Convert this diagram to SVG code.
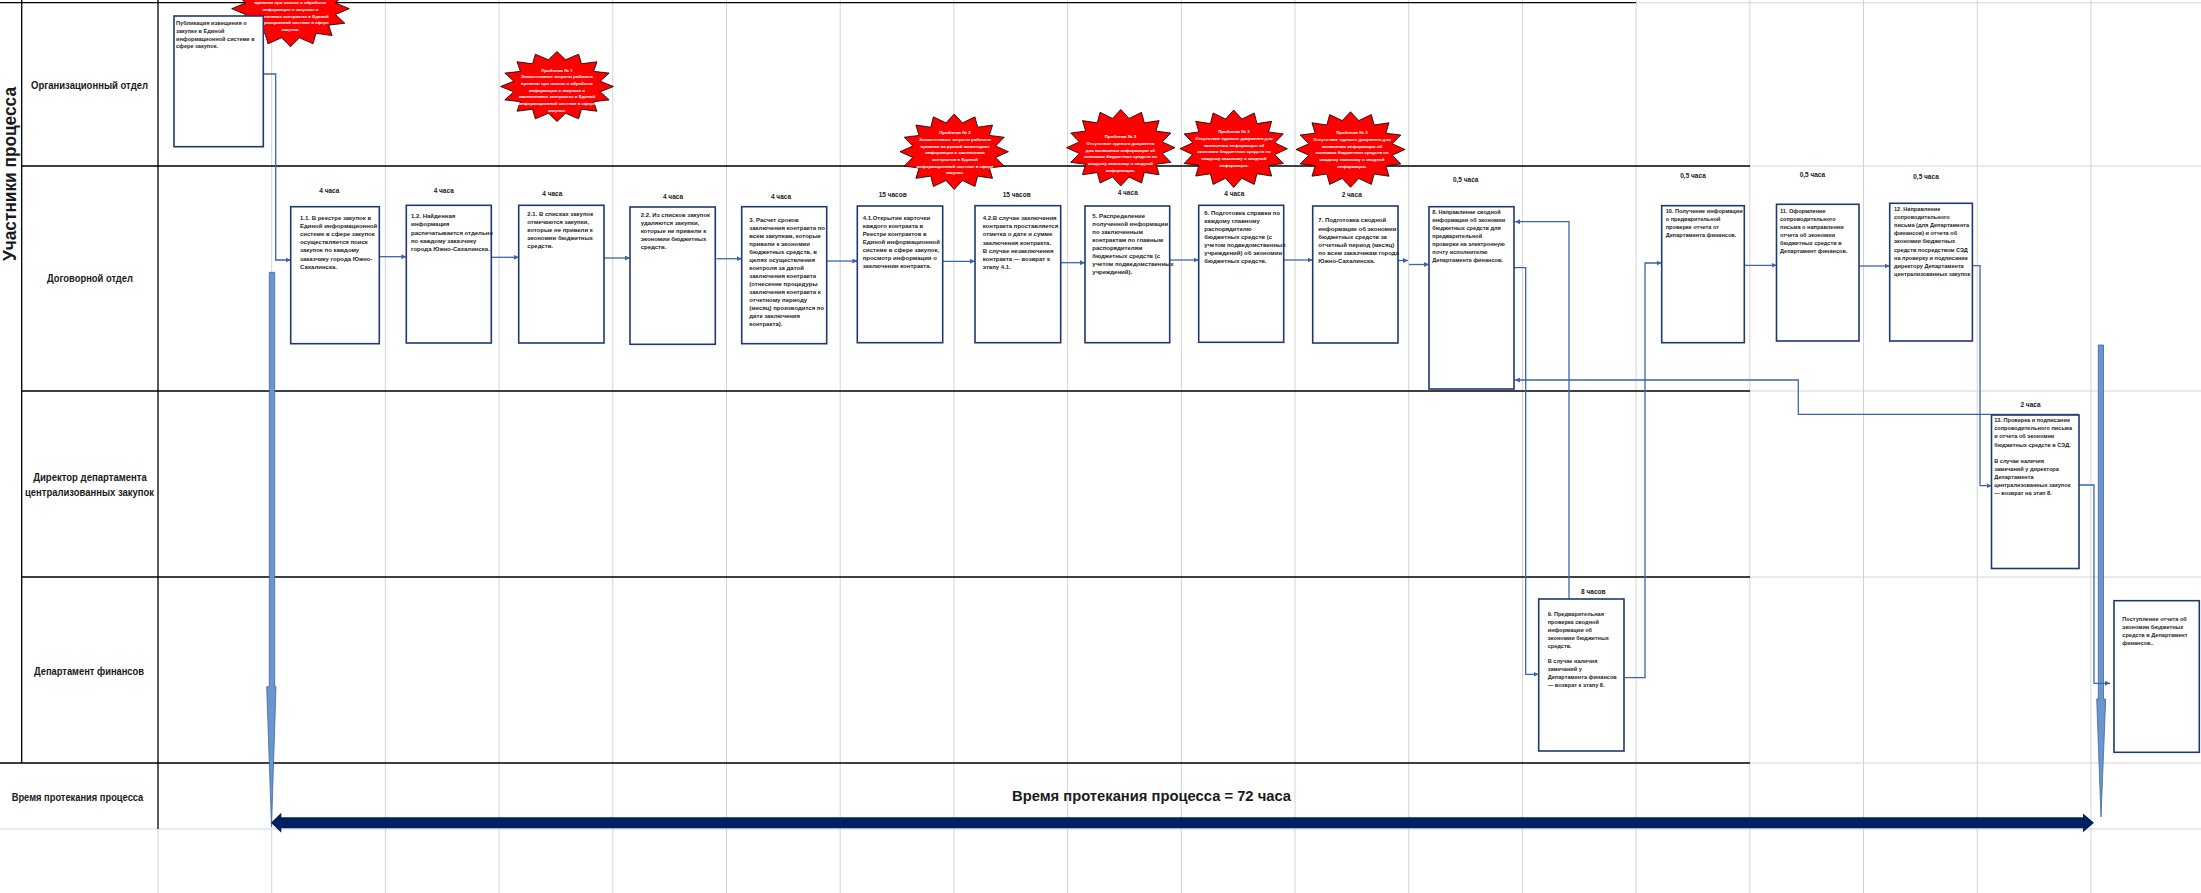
<svg xmlns="http://www.w3.org/2000/svg" xmlns:xlink="http://www.w3.org/1999/xlink" width="2201" height="893" viewBox="0 0 2201 893">
<style>
.grid{stroke:#d4d4d4;stroke-width:1;fill:none}
.bl{stroke:#000;stroke-width:1.3;fill:none}
.lane{font-family:"Liberation Sans",Arial,sans-serif;font-weight:bold;font-size:11.5px;fill:#1a1a1a;text-anchor:middle}
.box{fill:#fff;stroke:#1f3a70;stroke-width:1.6}
.bt{font-family:"Liberation Sans",Arial,sans-serif;font-weight:bold;font-size:6px;fill:#1e1e1e}
.bs{font-size:5.6px}
.tm{font-family:"Liberation Sans",Arial,sans-serif;font-weight:bold;font-size:6.5px;fill:#222;text-anchor:middle}
.star{fill:#ff0000;stroke:#000;stroke-width:0.8}
.st{font-family:"Liberation Sans",Arial,sans-serif;font-weight:bold;font-size:4.4px;fill:#fff;text-anchor:middle}
.con{fill:none;stroke:#3d64ad;stroke-width:1.3}
.bar{fill:#6a95cf;stroke:#41669e;stroke-width:0.8}
</style>
<defs>
<polygon id="star" class="star" vector-effect="non-scaling-stroke" points="0,-100 15.2,-76.5 38.3,-92.4 43.3,-64.9 70.7,-70.7 64.9,-43.3 92.4,-38.3 76.5,-15.2 100,0 76.5,15.2 92.4,38.3 64.9,43.3 70.7,70.7 43.3,64.9 38.3,92.4 15.2,76.5 0,100 -15.2,76.5 -38.3,92.4 -43.3,64.9 -70.7,70.7 -64.9,43.3 -92.4,38.3 -76.5,15.2 -100,0 -76.5,-15.2 -92.4,-38.3 -64.9,-43.3 -70.7,-70.7 -43.3,-64.9 -38.3,-92.4 -15.2,-76.5"/>
<marker id="ah" viewBox="0 0 10 10" refX="10" refY="5" markerWidth="5" markerHeight="5" markerUnits="userSpaceOnUse" orient="auto"><path d="M0,0 L10,5 L0,10 z" fill="#3d64ad"/></marker>
</defs>
<rect width="2201" height="893" fill="#fff"/>
<g id="grid">
<path class="grid" d="M271.7,0V893M385.4,0V893M499.1,0V893M612.8,0V893M726.5,0V893M840.2,0V893M953.9,0V893M1067.6,0V893M1181.3,0V893M1295,0V893M1408.7,0V893M1522.4,0V893M1636.1,0V893M1749.8,0V893M1863.5,0V893M1977.2,0V893M2090.9,0V893M0,829H2201M158,829V893M1636,2.7H2201M1750,166H2201M1750,391H2201M1750,577H2201M1750,763H2201"/>
<path class="bl" d="M0,2.7H1636M21.7,166H1750M21.7,391H1750M21.7,577H1750M0,763H1750M21.7,0V763M158,0V829"/>
</g>
<g id="lanes">
<text class="lane" transform="translate(15.5,174) rotate(-90)" style="font-size:19px" textLength="174" lengthAdjust="spacingAndGlyphs">Участники процесса</text>
<text class="lane" x="89.5" y="89.3" textLength="117" lengthAdjust="spacingAndGlyphs">Организационный отдел</text>
<text class="lane" x="90" y="282" textLength="86" lengthAdjust="spacingAndGlyphs">Договорной отдел</text>
<text class="lane" x="90" y="481" textLength="113.7" lengthAdjust="spacingAndGlyphs">Директор департамента</text>
<text class="lane" x="89.5" y="495.7" textLength="129" lengthAdjust="spacingAndGlyphs">централизованных закупок</text>
<text class="lane" x="89" y="675" textLength="110" lengthAdjust="spacingAndGlyphs">Департамент финансов</text>
<text class="lane" x="77.5" y="800.7" textLength="131.6" lengthAdjust="spacingAndGlyphs">Время протекания процесса</text>
</g>
<g id="timeline">
<path class="bar" d="M269.3,272.3H274.7V686.7H276L271.5,827L266.7,686.7H269.3Z"/>
<path class="bar" d="M2098.3,345H2103.5V699H2105.7L2101,817L2096.7,699H2098.3Z"/>
<path fill="#002060" d="M271,822.8L281.3,812.7V817.3H2083V813.5L2094,822.8L2083,832.3V828.3H281.3V832.8Z"/>
<text class="lane" x="1151.5" y="800.7" style="font-size:15px" textLength="279" lengthAdjust="spacingAndGlyphs">Время протекания процесса = 72 часа</text>
</g>
<g id="problems">
<g id="problem-top"><use xlink:href="#star" href="#star" transform="translate(290.5,8.7) scale(0.588,0.38)"/>
<text class="st"><tspan x="290.5" y="4.2">времени  при  поиске  и обработке</tspan><tspan x="290.5" y="10.9">информации  о закупках  и</tspan><tspan x="290.5" y="17.5">заключенных  контрактах  в Единой</tspan><tspan x="290.5" y="24.2">информационной  системе  в сфере</tspan><tspan x="290.5" y="30.9">закупок.</tspan></text></g>
<g id="problem-1"><use xlink:href="#star" href="#star" transform="translate(557,86.5) scale(0.565,0.35)"/>
<text class="st"><tspan x="557" y="71.5">Проблема № 1</tspan><tspan x="557" y="78.2">Значительные  затраты  рабочего</tspan><tspan x="557" y="84.9">времени  при  поиске  и обработке</tspan><tspan x="557" y="91.6">информации  о закупках  и</tspan><tspan x="557" y="98.3">заключенных  контрактах  в Единой</tspan><tspan x="557" y="105">информационной  системе  в сфере</tspan><tspan x="557" y="111.7">закупок.</tspan></text></g>
<g id="problem-2"><use xlink:href="#star" href="#star" transform="translate(954.2,151.7) scale(0.542,0.377)"/>
<text class="st"><tspan x="955" y="134.2">Проблема № 2</tspan><tspan x="955" y="140.9">Значительные  затраты  рабочего</tspan><tspan x="955" y="147.6">времени  на  ручной мониторинг</tspan><tspan x="955" y="154.3">информации  о заключении</tspan><tspan x="955" y="161">контрактов  в  Единой</tspan><tspan x="955" y="167.7">информационной  системе  в сфере</tspan><tspan x="955" y="174.4">закупок.</tspan></text></g>
<g id="problem-3a"><use xlink:href="#star" href="#star" transform="translate(1120.8,147.7) scale(0.542,0.383)"/>
<text class="st"><tspan x="1120.5" y="138.2">Проблема № 3</tspan><tspan x="1120.5" y="145">Отсутствие  единого документа</tspan><tspan x="1120.5" y="151.7">для включения  информации  об</tspan><tspan x="1120.5" y="158.4">экономии  бюджетных  средств по</tspan><tspan x="1120.5" y="165.1">каждому  заказчику  и сводной</tspan><tspan x="1120.5" y="171.8">информации.</tspan></text></g>
<g id="problem-3b"><use xlink:href="#star" href="#star" transform="translate(1233.7,148.7) scale(0.537,0.387)"/>
<text class="st"><tspan x="1234" y="133.2">Проблема № 3</tspan><tspan x="1234" y="139.9">Отсутствие  единого документа для</tspan><tspan x="1234" y="146.6">включения  информации  об</tspan><tspan x="1234" y="153.3">экономии  бюджетных  средств по</tspan><tspan x="1234" y="160">каждому  заказчику  и сводной</tspan><tspan x="1234" y="166.7">информации.</tspan></text></g>
<g id="problem-3c"><use xlink:href="#star" href="#star" transform="translate(1350.5,149.5) scale(0.545,0.378)"/>
<text class="st"><tspan x="1352" y="134.2">Проблема № 3</tspan><tspan x="1352" y="140.9">Отсутствие  единого документа для</tspan><tspan x="1352" y="147.6">включения  информации  об</tspan><tspan x="1352" y="154.3">экономии  бюджетных  средств по</tspan><tspan x="1352" y="161">каждому  заказчику  и сводной</tspan><tspan x="1352" y="167.7">информации.</tspan></text></g>
</g>
<g id="connectors">
<path class="con" marker-end="url(#ah)" d="M259,74H275.7V260H290.7"/>
<path class="con" marker-end="url(#ah)" d="M379.3,256.7H406.3"/>
<path class="con" marker-end="url(#ah)" d="M491.3,257.3H518.7"/>
<path class="con" marker-end="url(#ah)" d="M604,258H630"/>
<path class="con" marker-end="url(#ah)" d="M716.5,258.7H741.7"/>
<path class="con" marker-end="url(#ah)" d="M826.7,261H857.3"/>
<path class="con" marker-end="url(#ah)" d="M942.7,261.3H975"/>
<path class="con" marker-end="url(#ah)" d="M1060.7,262.7H1085"/>
<path class="con" marker-end="url(#ah)" d="M1169.7,260H1198.7"/>
<path class="con" marker-end="url(#ah)" d="M1283.7,260H1312.7"/>
<path class="con" marker-end="url(#ah)" d="M1398,260.5H1408"/>
<path class="con" marker-end="url(#ah)" d="M1409,264.5H1429"/>
<path class="con" marker-end="url(#ah)" d="M1514,267.7H1525.7V674.3H1538.5"/>
<path class="con" marker-end="url(#ah)" d="M1569,599V221.7H1515"/>
<path class="con" marker-end="url(#ah)" d="M1625,677.7H1645V263H1661.5"/>
<path class="con" marker-end="url(#ah)" d="M1744.3,265.3H1776.5"/>
<path class="con" marker-end="url(#ah)" d="M1859,266H1889.7"/>
<path class="con" marker-end="url(#ah)" d="M1972.4,265.7H1980V485.7H1991.5"/>
<path class="con" marker-end="url(#ah)" d="M2079,485H2094V683.3H2110"/>
<path class="con" marker-end="url(#ah)" d="M2079,414.3H1798.3V380H1515"/>
</g>
<g id="node-0"><rect class="box" x="174" y="16" width="89.3" height="130.7"/>
<text class="bt bs"><tspan x="176" y="25">Публикация извещения о</tspan><tspan x="176" dy="7.8">закупке в Единой</tspan><tspan x="176" dy="7.8">информационной системе в</tspan><tspan x="176" dy="7.8">сфере закупок.</tspan></text></g>
<g id="node-1-1"><text class="tm" x="329.3" y="193.3">4 часа</text><rect class="box" x="290.7" y="206.7" width="88.6" height="137"/>
<text class="bt"><tspan x="300" y="220">1.1. В реестре закупок в</tspan><tspan x="300" dy="8.1">Единой информационной</tspan><tspan x="300" dy="8.1">системе в сфере закупок</tspan><tspan x="300" dy="8.1">осуществляется поиск</tspan><tspan x="300" dy="8.1">закупок по каждому</tspan><tspan x="300" dy="8.1">заказчику города Южно-</tspan><tspan x="300" dy="8.1">Сахалинска.</tspan></text></g>
<g id="node-1-2"><text class="tm" x="443.7" y="193.3">4 часа</text><rect class="box" x="406.3" y="205.3" width="85" height="137.7"/>
<text class="bt"><tspan x="411" y="218.3">1.2. Найденная</tspan><tspan x="411" dy="8.1">информация</tspan><tspan x="411" dy="8.1">распечатывается отдельно</tspan><tspan x="411" dy="8.1">по каждому заказчику</tspan><tspan x="411" dy="8.1">города Южно-Сахалинска.</tspan></text></g>
<g id="node-2-1"><text class="tm" x="552.3" y="196.3">4 часа</text><rect class="box" x="518.7" y="205.3" width="85.3" height="137.7"/>
<text class="bt"><tspan x="527.3" y="215.7">2.1.  В списках закупок</tspan><tspan x="527.3" dy="8">отмечаются закупки,</tspan><tspan x="527.3" dy="8">которые не привели к</tspan><tspan x="527.3" dy="8">экономии бюджетных</tspan><tspan x="527.3" dy="8">средств.</tspan></text></g>
<g id="node-2-2"><text class="tm" x="673" y="199.3">4 часа</text><rect class="box" x="630" y="207" width="85.3" height="137.3"/>
<text class="bt"><tspan x="640.7" y="216.7">2.2. Из списков закупок</tspan><tspan x="640.7" dy="8">удаляются закупки,</tspan><tspan x="640.7" dy="8">которые не привели к</tspan><tspan x="640.7" dy="8">экономии бюджетных</tspan><tspan x="640.7" dy="8">средств.</tspan></text></g>
<g id="node-3"><text class="tm" x="781" y="199">4 часа</text><rect class="box" x="741.7" y="206.7" width="85" height="137"/>
<text class="bt"><tspan x="749.3" y="221.7">3. Расчет сроков</tspan><tspan x="749.3" dy="8">заключения контракта по</tspan><tspan x="749.3" dy="8">всем закупкам, которые</tspan><tspan x="749.3" dy="8">привели к экономии</tspan><tspan x="749.3" dy="8">бюджетных средств, в</tspan><tspan x="749.3" dy="8">целях осуществления</tspan><tspan x="749.3" dy="8">контроля за датой</tspan><tspan x="749.3" dy="8">заключения контракта</tspan><tspan x="749.3" dy="8">(отнесение процедуры</tspan><tspan x="749.3" dy="8">заключения контракта к</tspan><tspan x="749.3" dy="8">отчетному периоду</tspan><tspan x="749.3" dy="8">(месяц) производится по</tspan><tspan x="749.3" dy="8">дате заключения</tspan><tspan x="749.3" dy="8">контракта).</tspan></text></g>
<g id="node-4-1"><text class="tm" x="892.7" y="196.6">15 часов</text><rect class="box" x="857.3" y="206" width="85.4" height="136.7"/>
<text class="bt"><tspan x="862.7" y="220">4.1.Открытие карточки</tspan><tspan x="862.7" dy="8">каждого контракта в</tspan><tspan x="862.7" dy="8">Реестре контрактов в</tspan><tspan x="862.7" dy="8">Единой информационной</tspan><tspan x="862.7" dy="8">системе в сфере закупок,</tspan><tspan x="862.7" dy="8">просмотр информации о</tspan><tspan x="862.7" dy="8">заключении контракта.</tspan></text></g>
<g id="node-4-2"><text class="tm" x="1016.7" y="196.6">15 часов</text><rect class="box" x="975" y="205.7" width="85.7" height="137"/>
<text class="bt"><tspan x="982.7" y="220">4.2.В случае заключения</tspan><tspan x="982.7" dy="8.2">контракта проставляется</tspan><tspan x="982.7" dy="8.2">отметка о дате и сумме</tspan><tspan x="982.7" dy="8.2">заключения контракта.</tspan><tspan x="982.7" dy="8.2">В случае незаключения</tspan><tspan x="982.7" dy="8.2">контракта — возврат к</tspan><tspan x="982.7" dy="8.2">этапу 4.1.</tspan></text></g>
<g id="node-5"><text class="tm" x="1127.7" y="195.3">4 часа</text><rect class="box" x="1085" y="206" width="84.7" height="136.7"/>
<text class="bt"><tspan x="1092.3" y="218.3">5. Распределение</tspan><tspan x="1092.3" dy="8">полученной информации</tspan><tspan x="1092.3" dy="8">по заключенным</tspan><tspan x="1092.3" dy="8">контрактам по главным</tspan><tspan x="1092.3" dy="8">распорядителям</tspan><tspan x="1092.3" dy="8">бюджетных средств (с</tspan><tspan x="1092.3" dy="8">учетом подведомственных</tspan><tspan x="1092.3" dy="8">учреждений).</tspan></text></g>
<g id="node-6"><text class="tm" x="1234.3" y="195.6">4 часа</text><rect class="box" x="1198.7" y="205.3" width="85" height="137"/>
<text class="bt"><tspan x="1204.3" y="215">6. Подготовка справки по</tspan><tspan x="1204.3" dy="8">каждому главному</tspan><tspan x="1204.3" dy="8">распорядителю</tspan><tspan x="1204.3" dy="8">бюджетных средств (с</tspan><tspan x="1204.3" dy="8">учетом подведомственных</tspan><tspan x="1204.3" dy="8">учреждений) об экономии</tspan><tspan x="1204.3" dy="8">бюджетных средств.</tspan></text></g>
<g id="node-7"><text class="tm" x="1351.7" y="196.6">2 часа</text><rect class="box" x="1312.7" y="206" width="85.3" height="137"/>
<text class="bt"><tspan x="1318.3" y="222.3">7. Подготовка сводной</tspan><tspan x="1318.3" dy="8.2">информации об экономии</tspan><tspan x="1318.3" dy="8.2">бюджетных средств за</tspan><tspan x="1318.3" dy="8.2">отчетный период (месяц)</tspan><tspan x="1318.3" dy="8.2">по всем заказчикам города</tspan><tspan x="1318.3" dy="8.2">Южно-Сахалинска.</tspan></text></g>
<g id="node-8"><text class="tm" x="1465.7" y="182.3">0,5 часа</text><rect class="box" x="1429" y="206.7" width="85" height="182.3"/>
<text class="bt bs"><tspan x="1432.3" y="214">8. Направление сводной</tspan><tspan x="1432.3" dy="8">информации об экономии</tspan><tspan x="1432.3" dy="8">бюджетных средств для</tspan><tspan x="1432.3" dy="8">предварительной</tspan><tspan x="1432.3" dy="8">проверки на электронную</tspan><tspan x="1432.3" dy="8">почту исполнителю</tspan><tspan x="1432.3" dy="8">Департамента финансов.</tspan></text></g>
<g id="node-9"><text class="tm" x="1593.3" y="594">8 часов</text><rect class="box" x="1538.7" y="599" width="85.3" height="152"/>
<text class="bt bs"><tspan x="1547.7" y="615.7">9. Предварительная</tspan><tspan x="1547.7" dy="8">проверка сводной</tspan><tspan x="1547.7" dy="8">информации об</tspan><tspan x="1547.7" dy="8">экономии бюджетных</tspan><tspan x="1547.7" dy="8">средств.</tspan><tspan x="1547.7" dy="15.6">В случае наличия</tspan><tspan x="1547.7" dy="8">замечаний у</tspan><tspan x="1547.7" dy="8">Департамента финансов</tspan><tspan x="1547.7" dy="8">— возврат к этапу 8.</tspan></text></g>
<g id="node-10"><text class="tm" x="1693" y="178">0,5 часа</text><rect class="box" x="1661.7" y="205.7" width="82.6" height="137"/>
<text class="bt bs"><tspan x="1665.7" y="212.7">10. Получение информации</tspan><tspan x="1665.7" dy="8">о предварительной</tspan><tspan x="1665.7" dy="8">проверке отчета от</tspan><tspan x="1665.7" dy="8">Департамента финансов.</tspan></text></g>
<g id="node-11"><text class="tm" x="1812.4" y="176.6">0,5 часа</text><rect class="box" x="1776.5" y="204.3" width="82.5" height="136.7"/>
<text class="bt bs"><tspan x="1780" y="212.7">11. Оформление</tspan><tspan x="1780" dy="8">сопроводительного</tspan><tspan x="1780" dy="8">письма о направлении</tspan><tspan x="1780" dy="8">отчета об экономии</tspan><tspan x="1780" dy="8">бюджетных средств в</tspan><tspan x="1780" dy="8">Департамент финансов.</tspan></text></g>
<g id="node-12"><text class="tm" x="1926" y="179">0,5 часа</text><rect class="box" x="1889.7" y="203.3" width="82.7" height="137.7"/>
<text class="bt bs"><tspan x="1894" y="211">12. Направление</tspan><tspan x="1894" dy="8.1">сопроводительного</tspan><tspan x="1894" dy="8.1">письма (для Департамента</tspan><tspan x="1894" dy="8.1">финансов) и отчета об</tspan><tspan x="1894" dy="8.1">экономии бюджетных</tspan><tspan x="1894" dy="8.1">средств посредством СЭД</tspan><tspan x="1894" dy="8.1">на проверку и подписание</tspan><tspan x="1894" dy="8.1">директору Департамента</tspan><tspan x="1894" dy="8.1">централизованных закупок</tspan></text></g>
<g id="node-13"><text class="tm" x="2030.5" y="407.3">2 часа</text><rect class="box" x="1991.5" y="415" width="87.5" height="153.5"/>
<text class="bt bs"><tspan x="1994.2" y="421.7">13. Проверка и подписание</tspan><tspan x="1994.2" dy="8.3">сопроводительного письма</tspan><tspan x="1994.2" dy="8.3">и отчета об экономии</tspan><tspan x="1994.2" dy="8.3">бюджетных средств в СЭД.</tspan><tspan x="1994.2" dy="16">В случае наличия</tspan><tspan x="1994.2" dy="8">замечаний у директора</tspan><tspan x="1994.2" dy="8">Департамента</tspan><tspan x="1994.2" dy="8">централизованных закупок</tspan><tspan x="1994.2" dy="8">— возврат на этап 8.</tspan></text></g>
<g id="node-final"><rect class="box" x="2114" y="600.7" width="85.3" height="151.6"/>
<text class="bt bs"><tspan x="2122.3" y="621">Поступление отчета об</tspan><tspan x="2122.3" dy="8">экономии бюджетных</tspan><tspan x="2122.3" dy="8">средств  в Департамент</tspan><tspan x="2122.3" dy="8">финансов..</tspan></text></g>
</svg>
